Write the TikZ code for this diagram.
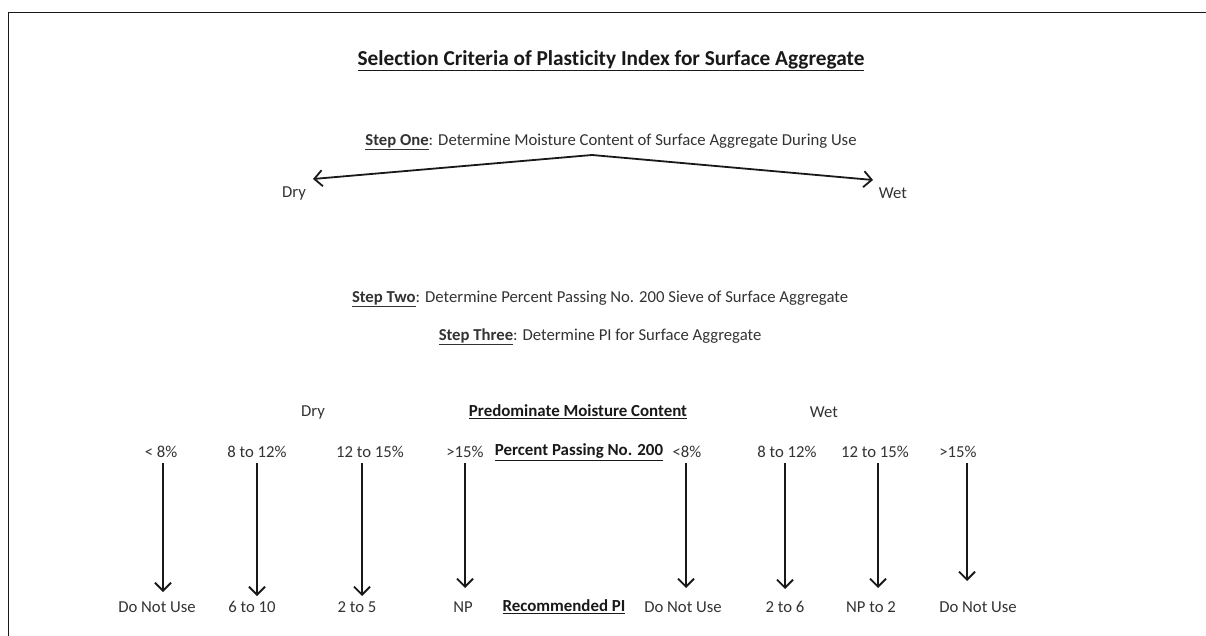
\documentclass[tikz,border=0pt]{standalone}
\usepackage{fontspec}
\setmainfont{Carlito}[Ligatures=NoCommon]
\usetikzlibrary{arrows.meta}
\definecolor{txt}{HTML}{333333}
\begin{document}
\begin{tikzpicture}[x=1pt,y=-1pt,
  lab/.style={font=\fontsize{16.7}{18}\selectfont, text=txt, inner sep=1pt},
  hd/.style={font=\fontsize{16.9}{18}\selectfont\bfseries, text=black!90, inner sep=1pt},
  arr/.style={draw=black!90, line width=1.8pt, -{Straight Barb[length=8pt,width=16pt,line width=1.8pt]}},
  arrthick/.style={arr, line width=2.6pt}]
\useasboundingbox (0,0) rectangle (1206,636);
\fill[white] (0,0) rectangle (1206,636);
% frame
\draw[line width=1.6pt, black!90] (8.5,636) -- (8.5,12.5) -- (1206,12.5);
% title and steps
\node[hd, font=\fontsize{21.3}{23}\selectfont\bfseries] (title) at (611,61) {\underline{Selection Criteria of Plasticity Index for Surface Aggregate}};
\node[lab] (s1) at (611,142) {\textbf{\underline{Step One}}: Determine Moisture Content of Surface Aggregate During Use};
\node[lab] (dry) at (294,193) {Dry};
\node[lab] (wet) at (893,193) {Wet};
\coordinate (apex) at (592,155);
\coordinate (dtip) at (313,179);
\coordinate (wtip) at (873,180);
\draw[arr] (apex) -- (dtip);
\draw[arr] (apex) -- (wtip);
\node[lab] (s2) at (600,299) {\textbf{\underline{Step Two}}: Determine Percent Passing No. 200 Sieve of Surface Aggregate};
\node[lab] (s3) at (600,337) {\textbf{\underline{Step Three}}: Determine PI for Surface Aggregate};
% table headers
\node[lab] (hdry) at (313,412) {Dry};
\node[hd] (hpmc) at (578,412) {\underline{Predominate Moisture Content}};
\node[lab] (hwet) at (824,412) {Wet};
% percent passing row
\node[lab] (p1) at (161,452) {< 8\%};
\node[lab] (p2) at (257,452) {8 to 12\%};
\node[lab] (p3) at (370,452) {12 to 15\%};
\node[lab] (p4) at (465,452) {>15\%};
\node[hd] (hpp) at (579,452) {\underline{Percent Passing No. 200}};
\node[lab] (p5) at (687,452) {<8\%};
\node[lab] (p6) at (787,452) {8 to 12\%};
\node[lab] (p7) at (875,452) {12 to 15\%};
\node[lab] (p8) at (958,452) {>15\%};
% recommended PI row
\node[lab] (r1) at (157,607) {Do Not Use};
\node[lab] (r2) at (252,607) {6 to 10};
\node[lab] (r3) at (357,607) {2 to 5};
\node[lab] (r4) at (463,607) {NP};
\node[hd] (hrp) at (564,607) {\underline{Recommended PI}};
\node[lab] (r5) at (683,607) {Do Not Use};
\node[lab] (r6) at (785,607) {2 to 6};
\node[lab] (r7) at (871,607) {NP to 2};
\node[lab] (r8) at (978,607) {Do Not Use};
% arrows
\coordinate (a1) at (163,463);
\coordinate (a2) at (257,463);
\coordinate (a3) at (362,463);
\coordinate (a4) at (465,463);
\coordinate (a5) at (686,463);
\coordinate (a6) at (785,463);
\coordinate (a7) at (878,463);
\coordinate (a8) at (967,463);
\coordinate (b1) at (163,592);
\coordinate (b2) at (257,596);
\coordinate (b3) at (362,596);
\coordinate (b4) at (465,588);
\coordinate (b5) at (686,588);
\coordinate (b6) at (785,589);
\coordinate (b7) at (878,588);
\coordinate (b8) at (967,581);
\draw[arr] (a1) -- (b1);
\draw[arrthick] (a2) -- (b2);
\draw[arr] (a3) -- (b3);
\draw[arr] (a4) -- (b4);
\draw[arr] (a5) -- (b5);
\draw[arrthick] (a6) -- (b6);
\draw[arr] (a7) -- (b7);
\draw[arr] (a8) -- (b8);
\end{tikzpicture}
\end{document}
